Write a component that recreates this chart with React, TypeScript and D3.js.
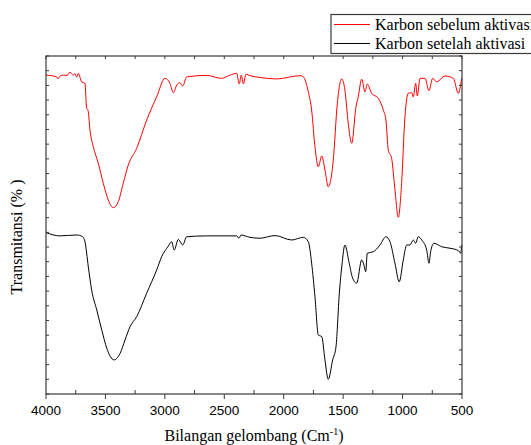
import React from 'react';
import * as d3 from 'd3';

// wavenumber (cm-1) / transmittance (arbitrary %)
const beforeWn = [4000, 3910, 3899, 3882, 3854, 3823, 3798, 3770, 3756, 3742, 3728, 3700, 3672, 3658, 3647, 3630, 3602, 3560, 3518, 3476, 3434, 3392, 3350, 3308, 3237, 3153, 3069, 2999, 2957, 2929, 2900, 2873, 2850, 2816, 2648, 2522, 2452, 2396, 2374, 2357, 2340, 2317, 2284, 2200, 2059, 1863, 1835, 1793, 1765, 1737, 1709, 1680, 1653, 1625, 1583, 1549, 1512, 1485, 1457, 1428, 1392, 1373, 1344, 1316, 1297, 1260, 1204, 1162, 1140, 1120, 1092, 1064, 1036, 1008, 980, 952, 923, 910, 890, 876, 853, 811, 778, 747, 713, 643, 573, 531, 503];
const beforeT = [108.5, 107.9, 107.2, 108.2, 108.5, 108.4, 109.5, 108.5, 109.0, 107.8, 109.1, 106.2, 105.7, 97.2, 96.6, 89.8, 84.1, 78.5, 71.7, 66.0, 63.4, 65.4, 71.7, 77.9, 83.6, 93.2, 101.1, 107.4, 105.7, 102.5, 105.1, 105.9, 104.8, 107.9, 108.4, 107.4, 108.5, 109.1, 105.5, 108.5, 105.5, 108.8, 108.3, 107.7, 107.2, 108.3, 107.9, 102.8, 96.6, 84.1, 77.3, 81.0, 76.2, 70.5, 79.6, 98.9, 107.2, 103.4, 92.1, 85.3, 97.7, 101.1, 107.1, 102.8, 105.4, 102.3, 100.6, 96.6, 93.2, 83.0, 80.2, 69.4, 60.1, 71.7, 94.3, 102.3, 102.5, 101.1, 105.7, 101.4, 107.4, 107.4, 103.2, 107.4, 106.2, 108.2, 107.4, 102.3, 107.4];

const afterWn = [4000, 3882, 3742, 3691, 3672, 3644, 3616, 3573, 3531, 3489, 3428, 3377, 3335, 3293, 3237, 3153, 3069, 3027, 2971, 2943, 2921, 2887, 2850, 2816, 2648, 2396, 2376, 2359, 2284, 2200, 2073, 1933, 1835, 1793, 1765, 1737, 1709, 1680, 1653, 1625, 1588, 1560, 1532, 1510, 1485, 1449, 1420, 1386, 1344, 1325, 1310, 1297, 1246, 1190, 1140, 1106, 1064, 1028, 994, 965, 938, 910, 890, 868, 839, 797, 778, 764, 736, 671, 601, 531, 511, 503];
const afterT = [54.9, 53.8, 54.1, 53.5, 51.8, 43.3, 35.4, 28.6, 21.8, 15.6, 11.6, 13.8, 18.4, 22.9, 26.3, 34.3, 42.2, 46.7, 50.3, 51.8, 49.0, 52.6, 50.7, 53.5, 53.8, 53.8, 53.0, 54.1, 53.3, 53.0, 53.9, 52.4, 53.3, 51.8, 44.5, 33.1, 20.1, 19.5, 11.6, 5.0, 11.6, 16.1, 34.3, 43.9, 50.7, 44.5, 39.4, 37.7, 45.6, 43.9, 41.6, 47.9, 48.4, 50.7, 53.5, 51.8, 44.5, 38.2, 45.6, 50.7, 50.7, 52.4, 51.3, 53.5, 52.4, 49.0, 44.5, 48.4, 51.3, 50.1, 49.6, 48.8, 47.9, 50.7];

const xMajor = [4000, 3500, 3000, 2500, 2000, 1500, 1000, 500];
const xMinor = [3750, 3250, 2750, 2250, 1750, 1250, 750];
const seriesNames = ['Karbon sebelum aktivasi', 'Karbon setelah aktivasi'];
const seriesColors = ['#ff0000', '#000000'];

const W = 531;
const H = 445;
const m = { left: 46, right: 462, top: 56, bottom: 394 };

export default function App() {
  const x = d3.scaleLinear().domain([4000, 500]).range([m.left, m.right]);
  const y = d3.scaleLinear().domain([0, 115]).range([m.bottom, m.top]);
  const yTicks = d3.range(0, 116, 5);

  const line = d3
    .line<[number, number]>()
    .x((d) => x(d[0]))
    .y((d) => y(d[1]))
    .curve(d3.curveMonotoneX);

  const series = [
    beforeWn.map((w, i) => [w, beforeT[i]] as [number, number]),
    afterWn.map((w, i) => [w, afterT[i]] as [number, number]),
  ];

  const axisColor = '#3a3a3a';
  const serif = '"Liberation Serif", "Times New Roman", serif';
  const sans = '"Liberation Sans", Arial, sans-serif';

  return (
    <svg width={W} height={H} style={{ position: 'absolute', left: 0, top: 0, background: '#fff' }}>
      {series.map((s, i) => (
        <path key={i} d={line(s) || ''} fill="none" stroke={seriesColors[i]} strokeWidth={1} />
      ))}

      <rect x={m.left} y={m.top} width={m.right - m.left} height={m.bottom - m.top} fill="none" stroke={axisColor} strokeWidth={1.2} />

      {/* bottom axis */}
      {xMajor.map((t) => (
        <g key={'M' + t}>
          <line x1={x(t)} x2={x(t)} y1={m.bottom} y2={m.bottom + 5} stroke={axisColor} />
          <line x1={x(t)} x2={x(t)} y1={m.top} y2={m.top + 3} stroke={axisColor} />
          <text x={x(t)} y={415} textAnchor="middle" fontFamily={sans} fontSize={13.5} fill="#000">
            {t}
          </text>
        </g>
      ))}
      {xMinor.map((t) => (
        <g key={'m' + t}>
          <line x1={x(t)} x2={x(t)} y1={m.bottom} y2={m.bottom - 4} stroke={axisColor} />
          <line x1={x(t)} x2={x(t)} y1={m.top} y2={m.top + 3} stroke={axisColor} />
        </g>
      ))}
      {yTicks.map((t) => (
        <g key={'y' + t}>
          <line x1={m.left} x2={m.left + 3} y1={y(t)} y2={y(t)} stroke={axisColor} />
          <line x1={m.right} x2={m.right - 3} y1={y(t)} y2={y(t)} stroke={axisColor} />
        </g>
      ))}

      <text x={(m.left + m.right) / 2} y={441} textAnchor="middle" fontFamily={serif} fontSize={16} fill="#000">
        Bilangan gelombang (Cm
        <tspan fontSize={10} dy={-6}>-1</tspan>
        <tspan dy={6}>)</tspan>
      </text>
      <text
        transform={`translate(22, ${(m.top + m.bottom) / 2 + 12}) rotate(-90)`}
        textAnchor="middle"
        fontFamily={serif}
        fontSize={16}
        fill="#000"
      >
        Transmitansi (% )
      </text>

      {/* legend */}
      <g>
        <rect x={331} y={14.5} width={210} height={39} fill="#fff" stroke={axisColor} strokeWidth={1.2} />
        {seriesNames.map((n, i) => (
          <g key={n}>
            <line x1={334} x2={370} y1={24.5 + i * 19} y2={24.5 + i * 19} stroke={seriesColors[i]} strokeWidth={1} />
            <text x={375} y={30 + i * 19} fontFamily={serif} fontSize={16} fill="#000">
              {n}
            </text>
          </g>
        ))}
      </g>
    </svg>
  );
}
